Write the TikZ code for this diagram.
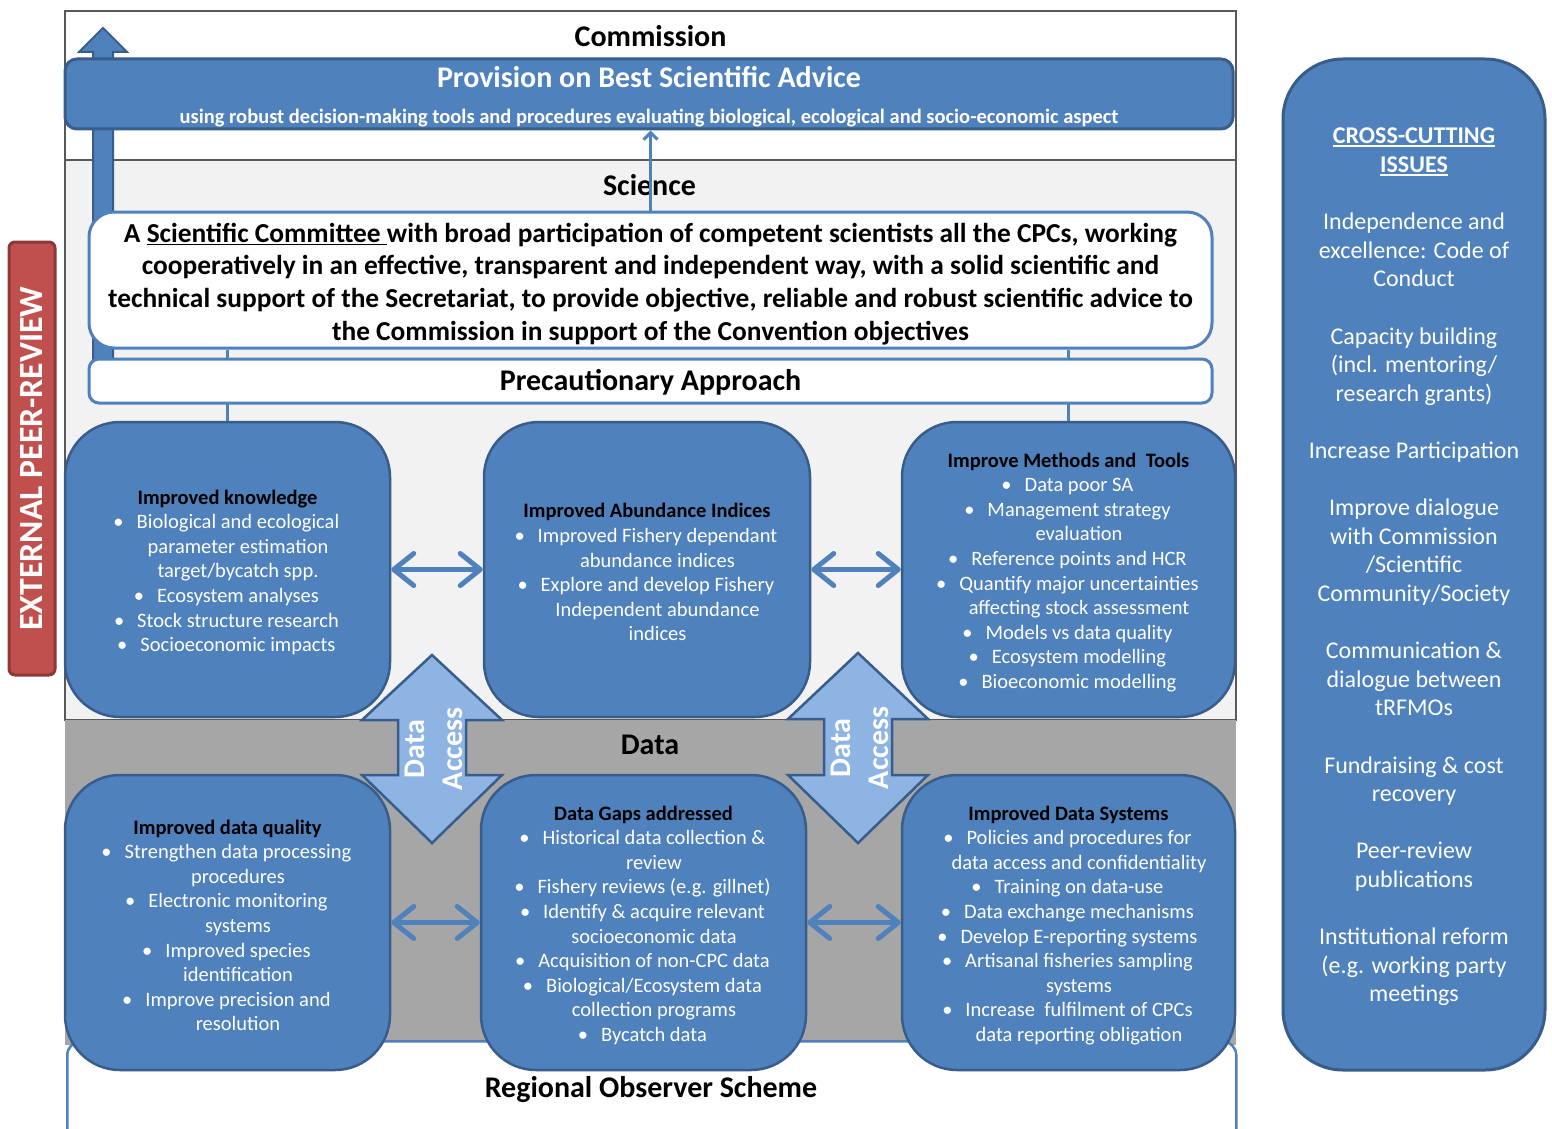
\documentclass[tikz,border=0pt]{standalone}
\usepackage{fontspec}
\setmainfont{Carlito}
\usetikzlibrary{arrows.meta}

\definecolor{blueA}{HTML}{4F81BD}
\definecolor{blueB}{HTML}{385D8A}
\definecolor{blueL}{HTML}{8EB4E3}
\definecolor{redA}{HTML}{C0504D}
\definecolor{redB}{HTML}{8C3836}
\definecolor{grayL}{HTML}{F2F2F2}
\definecolor{grayD}{HTML}{A6A6A6}
\definecolor{frameC}{HTML}{595959}

\newcommand{\fs}[2]{\fontsize{#1}{#2}\selectfont}
% bullet item: text block shifted right, bullet hanging to the left
\newcommand{\bitem}[1]{\hspace*{21pt}\llap{•\hspace{13pt}}#1}
\newcommand{\bcont}[1]{\hspace*{21pt}#1}
% box heading, with a strut that sets the block a little lower
\newcommand{\head}[1]{\rule{0pt}{20pt}{\color{black}\bfseries #1}}
% thicker underline
\newcommand{\ulbar}[1]{\leavevmode\setbox0\hbox{#1}\rlap{\rule[-3pt]{\wd0}{1.6pt}}\box0}

\begin{document}
\begin{tikzpicture}[x=1pt,y=-1pt,
  card/.style={rectangle, rounded corners=55pt, fill=blueA, draw=blueB,
    line width=2.5pt, minimum height=295pt, inner sep=0pt, align=center,
    text=white, font=\fs{20.5}{24.6}},
  whitebar/.style={rectangle, fill=white, draw=blueA, line width=3pt,
    inner sep=0pt, align=center},
  title/.style={font=\bfseries\fs{30}{36}},
  link/.style={draw=blueA, line width=5pt,
    arrows={Straight Barb[length=20pt,width=32pt,round]-Straight Barb[length=20pt,width=32pt,round]}},
  feed/.style={draw=blueA, line width=3pt},
  access/.style={fill=blueL, draw=blueB, line width=2.5pt, line join=miter},
  accesstext/.style={rotate=90, align=center, text=white, font=\bfseries\fs{30}{38}}
]
\useasboundingbox (0,0) rectangle (1552,1129);

% ---- background panels ----
\draw[fill=white, draw=frameC, line width=1.5pt] (65,11) rectangle (1236,160);
\draw[fill=grayL, draw=frameC, line width=1.5pt] (65,160) rectangle (1236,720);
\fill[grayD] (65,720) rectangle (1236,1045);
\node[rectangle, rounded corners=14pt, fill=white, draw=blueA, line width=2.5pt,
  minimum width=1169pt, minimum height=140pt, anchor=north west] (ros) at (66,1040) {};
\node[title] (roslabel) at (651,1089.5) {Regional Observer Scheme};

% ---- upward arrow to the Commission ----
\draw[fill=blueA, draw=blueB, line width=2pt, line join=miter]
  (103,28) -- (127,52) -- (113,52) -- (113,385) -- (93,385) -- (93,52) -- (79,52) -- cycle;

% ---- Commission level ----
\node[title] (commission) at (650.5,36) {Commission};
\node[rectangle, rounded corners=12pt, fill=blueA, draw=blueB, line width=3pt,
  minimum width=1168pt, minimum height=70pt] (prov) at (649,94) {};
\node[title, text=white] (provT) at (649,77.5) {Provision on Best Scientific Advice};
\node[text=white, font=\bfseries\fs{20.5}{24}] (provS) at (649,118)
  {using robust decision-making tools and procedures evaluating biological, ecological and socio-economic aspect};

% ---- Science level ----
\node[title] (science) at (649.5,185) {Science};
\node[whitebar, rounded corners=25pt, minimum width=1123pt, minimum height=136pt,
  font=\bfseries\fs{27.4}{32.6}] (comm) at (650.5,280)
  {\rule{0pt}{27pt}A \ulbar{Scientific Committee }with broad participation of competent scientists all the CPCs, working\\
   cooperatively in an effective, transparent and independent way, with a solid scientific and\\
   technical support of the Secretariat, to provide objective, reliable and robust scientific advice to\\
   the Commission in support of the Convention objectives};
\draw[feed, -{Straight Barb[length=7pt,width=14pt]}] (comm.north) -- (comm.north |- prov.south);

\node[card, minimum width=325pt] (k1) at (227.5,569.5)
  {\head{Improved knowledge}\\
   \bitem{Biological and ecological}\\
   \bcont{parameter estimation}\\
   \bcont{target/bycatch spp.}\\
   \bitem{Ecosystem analyses}\\
   \bitem{Stock structure research}\\
   \bitem{Socioeconomic impacts}};
\node[card, minimum width=326pt] (k2) at (647,569.5)
  {\head{Improved Abundance Indices}\\
   \bitem{Improved Fishery dependant}\\
   \bcont{abundance indices}\\
   \bitem{Explore and develop Fishery}\\
   \bcont{Independent abundance}\\
   \bcont{indices}};
\node[card, minimum width=333pt] (k3) at (1068.5,569.5)
  {\head{Improve Methods and\ \ Tools}\\
   \bitem{Data poor SA}\\
   \bitem{Management strategy}\\
   \bcont{evaluation}\\
   \bitem{Reference points and HCR}\\
   \bitem{Quantify major uncertainties}\\
   \bcont{affecting stock assessment}\\
   \bitem{Models vs data quality}\\
   \bitem{Ecosystem modelling}\\
   \bitem{Bioeconomic modelling}};

% connectors from the committee through the precautionary bar
\draw[feed] (k1.north) -- (k1.north |- comm.south);
\draw[feed] (k3.north) -- (k3.north |- comm.south);
\node[whitebar, rounded corners=10pt, minimum width=1123pt, minimum height=44pt,
  title, text height=24pt, text depth=6pt] (prec) at (650.5,381) {Precautionary Approach};

% ---- Data level ----
\node[card, minimum width=325pt] (d1) at (227.5,922.5)
  {\head{Improved data quality}\\
   \bitem{Strengthen data processing}\\
   \bcont{procedures}\\
   \bitem{Electronic monitoring}\\
   \bcont{systems}\\
   \bitem{Improved species}\\
   \bcont{identification}\\
   \bitem{Improve precision and}\\
   \bcont{resolution}};
\node[card, minimum width=325pt] (d2) at (643.5,922.5)
  {\head{Data Gaps addressed}\\
   \bitem{Historical data collection \&}\\
   \bcont{review}\\
   \bitem{Fishery reviews (e.g. gillnet)}\\
   \bitem{Identify \& acquire relevant}\\
   \bcont{socioeconomic data}\\
   \bitem{Acquisition of non-CPC data}\\
   \bitem{Biological/Ecosystem data}\\
   \bcont{collection programs}\\
   \bitem{Bycatch data}};
\node[card, minimum width=333pt] (d3) at (1068.5,922.5)
  {\head{Improved Data Systems}\\
   \bitem{Policies and procedures for}\\
   \bcont{data access and confidentiality}\\
   \bitem{Training on data-use}\\
   \bitem{Data exchange mechanisms}\\
   \bitem{Develop E-reporting systems}\\
   \bitem{Artisanal fisheries sampling}\\
   \bcont{systems}\\
   \bitem{Increase\ \ fulfilment of CPCs}\\
   \bcont{data reporting obligation}};
\node[title] (datalabel) at (650,745) {Data};

% ---- two-way links between neighbouring boxes ----
\draw[link] (k1.east) -- (k2.west);
\draw[link] (k2.east) -- (k3.west);
\draw[link] (d1.east) -- (d2.west);
\draw[link] (d2.east) -- (d3.west);

% ---- data access arrows ----
\begin{scope}[shift={(432,749)}]
  \draw[access] (0,-94) -- (70,-29) -- (34,-29) -- (34,26) -- (70,26) -- (0,94)
    -- (-70,26) -- (-34,26) -- (-34,-29) -- (-70,-29) -- cycle;
  \node[accesstext] (access1) at (2,0) {Data\\Access};
\end{scope}
\begin{scope}[shift={(858,748)}]
  \draw[access] (0,-95) -- (70,-29) -- (34,-29) -- (34,27) -- (70,27) -- (0,95)
    -- (-70,27) -- (-34,27) -- (-34,-29) -- (-70,-29) -- cycle;
  \node[accesstext] (access2) at (2,0) {Data\\Access};
\end{scope}

% ---- side panels ----
\node[rectangle, rotate=90, rounded corners=6pt, fill=redA, draw=redB, line width=3pt,
  minimum width=433pt, minimum height=46pt, inner sep=0pt, text=white,
  font=\bfseries\fs{33.8}{40}] (epr) at (32,458.5) {EXTERNAL PEER-REVIEW};

\node[rectangle, rounded corners=60pt, fill=blueA, draw=blueB, line width=3pt,
  minimum width=262pt, minimum height=1011pt, align=center, text=white,
  font=\fs{24}{28.6}] (cross) at (1414,564.5)
  {\rule{0pt}{21pt}\ulbar{\bfseries CROSS-CUTTING}\\
   \ulbar{\bfseries ISSUES}\\[28.6pt]
   Independence and\\ excellence: Code of\\ Conduct\\[28.6pt]
   Capacity building\\ (incl. mentoring/\\ research grants)\\[28.6pt]
   Increase Participation\\[28.6pt]
   Improve dialogue\\ with Commission\\ /Scientific\\ Community/Society\\[28.6pt]
   Communication \&\\ dialogue between\\ tRFMOs\\[28.6pt]
   Fundraising \& cost\\ recovery\\[28.6pt]
   Peer-review\\ publications\\[28.6pt]
   Institutional reform\\ (e.g. working party\\ meetings};
\end{tikzpicture}
\end{document}
